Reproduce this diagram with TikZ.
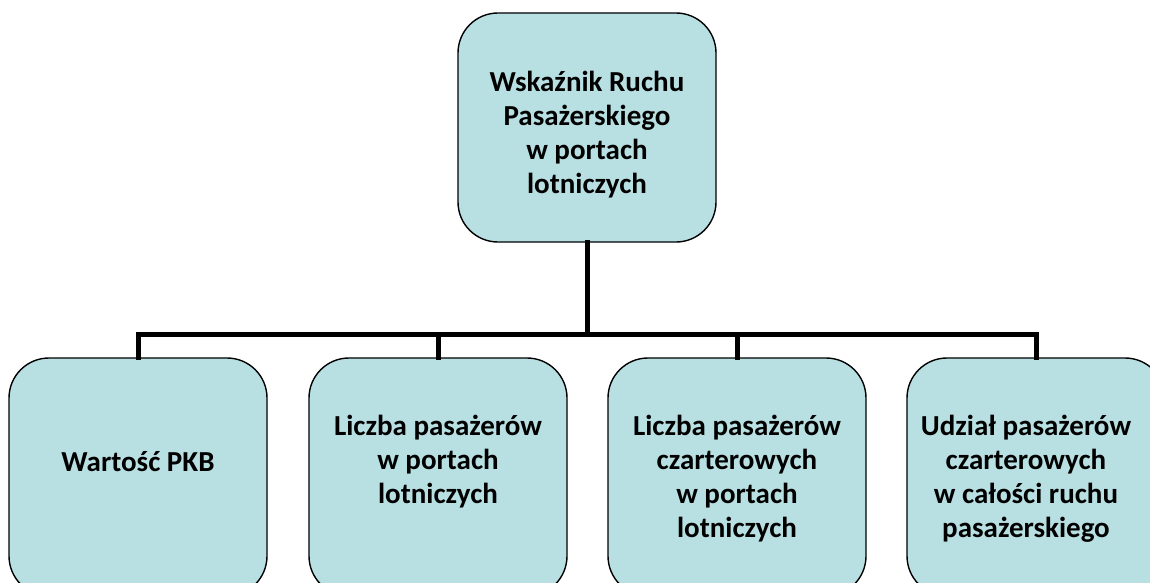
\documentclass[tikz,border=0pt]{standalone}
\usepackage{fontspec}
\setmainfont{Carlito}
\definecolor{boxfill}{RGB}{184,224,227}
\tikzset{
  box/.style={draw=black, line width=1.4pt, fill=boxfill, rounded corners=40pt},
  lbl/.style={font=\fontsize{29}{34}\selectfont\bfseries, align=center, inner sep=0pt},
  conn/.style={line width=5pt, line cap=rect}
}
\begin{document}
\begin{tikzpicture}[x=1pt,y=-1pt]
\useasboundingbox (0,0) rectangle (1150,583);
\begin{scope}
\clip (0,0) rectangle (1150,583);
\coordinate (bar) at (587,334);
\node[box, minimum width=258pt, minimum height=229pt] (top) at (587,127.5) {};
\node[box, minimum width=258pt, minimum height=238pt] (b1) at (138,477) {};
\node[box, minimum width=258pt, minimum height=238pt] (b2) at (438,477) {};
\node[box, minimum width=258pt, minimum height=238pt] (b3) at (737,477) {};
\node[box, minimum width=258pt, minimum height=238pt] (b4) at (1036,477) {};
\draw[conn] (top.south) -- (bar);
\draw[conn] (b1.north) |- (bar) -| (b4.north);
\draw[conn] (b2.north) -- (b2.north |- bar);
\draw[conn] (b3.north) -- (b3.north |- bar);
\node[lbl] (t0) at (587,135) {Wskaźnik Ruchu\\Pasażerskiego\\w portach\\lotniczych};
\node[lbl] (t1) at (138,462) {Wartość PKB};
\node[lbl] (t2) at (438,462) {Liczba pasażerów\\w portach\\lotniczych};
\node[lbl] (t3) at (737,479) {Liczba pasażerów\\czarterowych\\w portach\\lotniczych};
\node[lbl] (t4) at (1026,479) {Udział pasażerów\\czarterowych\\w całości ruchu\\pasażerskiego};
\end{scope}
\end{tikzpicture}
\end{document}
